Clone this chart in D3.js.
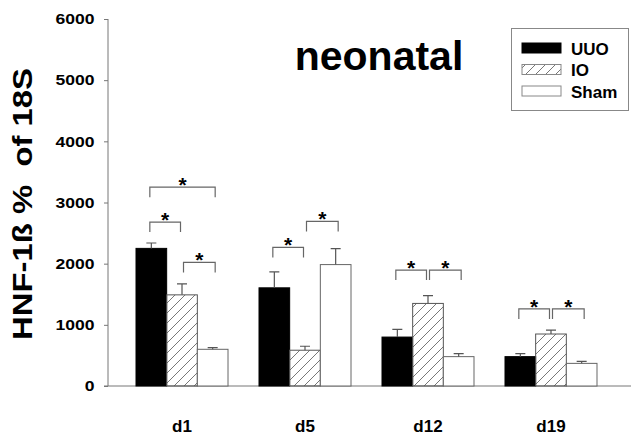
<!DOCTYPE html>
<html>
<head>
<meta charset="utf-8">
<script src="https://cdn.jsdelivr.net/npm/d3@7"></script>
<style>
  html, body { margin: 0; padding: 0; background: #fff; }
  svg { display: block; font-family: Arial, "Liberation Sans", sans-serif; }
</style>
</head>
<body>
<svg id="chart" width="631" height="438"></svg>
<script>
// values
const days = ['d1', 'd5', 'd12', 'd19'];
const groups = ['UUO', 'IO', 'Sham'];
const uuo = [2250, 1605, 800, 480];
const uuoErr = [88, 262, 125, 50];
const io = [1490, 585, 1350, 850];
const ioErr = [178, 65, 127, 62];
const sham = [600, 1985, 480, 370];
const shamErr = [27, 260, 50, 33];
const yTicks = [0, 1000, 2000, 3000, 4000, 5000, 6000];

// significance brackets: day, left group, right group, height
const sigDay = ['d1', 'd1', 'd1', 'd5', 'd5', 'd12', 'd12', 'd19', 'd19'];
const sigFrom = ['UUO', 'UUO', 'IO', 'UUO', 'IO', 'UUO', 'IO', 'UUO', 'IO'];
const sigTo = ['Sham', 'IO', 'Sham', 'IO', 'Sham', 'IO', 'Sham', 'IO', 'Sham'];
const sigLevel = [3250, 2680, 2020, 2265, 2690, 1895, 1895, 1260, 1260];

const seriesVals = { UUO: uuo, IO: io, Sham: sham };
const seriesErr = { UUO: uuoErr, IO: ioErr, Sham: shamErr };

const svg = d3.select('#chart');

// hatch pattern for IO
const defs = svg.append('defs');
defs.append('pattern')
  .attr('id', 'hatch')
  .attr('patternUnits', 'userSpaceOnUse')
  .attr('width', 10)
  .attr('height', 10)
  .append('path')
  .attr('d', 'M-1,1 L1,-1 M0,10 L10,0 M9,11 L11,9')
  .attr('stroke', '#555')
  .attr('stroke-width', 0.8);

const fills = { UUO: '#000', IO: 'url(#hatch)', Sham: '#fff' };
const strokes = { UUO: '#000', IO: '#555', Sham: '#666' };

const axisX = 108;
const yScale = d3.scaleLinear().domain([0, 6000]).range([386, 19]);

const xScale = d3.scaleBand()
  .domain(days)
  .range([105.5, 627.5])
  .paddingInner(0.252)
  .paddingOuter(0.248);

const xInner = d3.scaleBand()
  .domain(groups)
  .range([0, xScale.bandwidth()]);

const xc = (day, grp) => xScale(day) + xInner(grp) + xInner.bandwidth() / 2;

// y axis
const yAxis = d3.axisLeft(yScale)
  .tickValues(yTicks)
  .tickFormat(d3.format('d'))
  .tickSize(4)
  .tickPadding(7.5);

const gy = svg.append('g')
  .attr('transform', `translate(${axisX},0)`)
  .call(yAxis);
gy.select('.domain').attr('stroke', '#777').attr('d', `M0,${yScale(6000)}V${yScale(0)}`);
gy.selectAll('.tick line').attr('stroke', '#777');
gy.selectAll('.tick text')
  .attr('font-size', 15)
  .attr('font-weight', 'bold')
  .attr('fill', '#000')
  .attr('transform', 'scale(1.17,1)');

// x axis line and day labels
svg.append('line')
  .attr('x1', axisX - 4)
  .attr('x2', 631)
  .attr('y1', yScale(0))
  .attr('y2', yScale(0))
  .attr('stroke', '#777');

const xAxis = d3.axisBottom(xScale).tickSize(0).tickPadding(34);
const gx = svg.append('g')
  .attr('transform', `translate(0,${yScale(0)})`)
  .call(xAxis);
gx.select('.domain').remove();
gx.selectAll('.tick text')
  .attr('font-size', 17)
  .attr('font-weight', 'bold')
  .attr('fill', '#000');

// bars
const barData = [];
groups.forEach(g => {
  days.forEach((d, i) => {
    barData.push({ day: d, grp: g, v: seriesVals[g][i], e: seriesErr[g][i] });
  });
});

const bars = svg.append('g');
bars.selectAll('rect')
  .data(barData)
  .enter()
  .append('rect')
  .attr('x', d => xScale(d.day) + xInner(d.grp))
  .attr('y', d => yScale(d.v))
  .attr('width', xInner.bandwidth())
  .attr('height', d => yScale(0) - yScale(d.v))
  .attr('fill', d => fills[d.grp])
  .attr('stroke', d => strokes[d.grp])
  .attr('stroke-width', 1);

// error bars (upper only)
const errG = svg.append('g').attr('stroke', '#555').attr('stroke-width', 1.2);
errG.selectAll('path')
  .data(barData)
  .enter()
  .append('path')
  .attr('fill', 'none')
  .attr('d', d => {
    const cx = xc(d.day, d.grp);
    const top = yScale(d.v + d.e);
    return `M${cx},${yScale(d.v)}V${top}M${cx - 5},${top}H${cx + 5}`;
  });

// significance brackets
const sigData = sigDay.map((d, i) => ({ day: d, a: sigFrom[i], b: sigTo[i], h: sigLevel[i] }));
const endX = (day, grp, side) => {
  const c = xc(day, grp);
  if (grp === 'IO') return c + (side === 'left' ? 1.5 : -1.5);
  return c + (side === 'left' ? -1.5 : 2.5);
};
const sigG = svg.append('g');
sigG.selectAll('path')
  .data(sigData)
  .enter()
  .append('path')
  .attr('fill', 'none')
  .attr('stroke', '#666')
  .attr('stroke-width', 1.2)
  .attr('d', d => {
    const x1 = endX(d.day, d.a, 'left');
    const x2 = endX(d.day, d.b, 'right');
    const y = yScale(d.h);
    return `M${x1},${y + 10}V${y}H${x2}V${y + 10}`;
  });

sigG.selectAll('text')
  .data(sigData)
  .enter()
  .append('text')
  .attr('x', d => (endX(d.day, d.a, 'left') + endX(d.day, d.b, 'right')) / 2)
  .attr('y', d => yScale(d.h) + 5)
  .attr('text-anchor', 'middle')
  .attr('font-size', 21)
  .attr('font-weight', 'bold')
  .text('*');

// title
svg.append('text')
  .attr('x', 379)
  .attr('y', 70)
  .attr('text-anchor', 'middle')
  .attr('font-size', 41)
  .attr('font-weight', 'bold')
  .text('neonatal');

// y label
svg.append('text')
  .attr('transform', 'translate(32,204) rotate(-90)')
  .attr('text-anchor', 'middle')
  .attr('font-size', 28)
  .attr('font-weight', 'bold')
  .attr('textLength', 272)
  .attr('lengthAdjust', 'spacingAndGlyphs')
  .text('HNF-1ß %  of 18S')
  .style('white-space', 'pre');

// legend
const lg = svg.append('g');
lg.append('rect')
  .attr('x', 511.5)
  .attr('y', 28.5)
  .attr('width', 117)
  .attr('height', 82)
  .attr('fill', '#fff')
  .attr('stroke', '#888');

groups.forEach((g, i) => {
  const y = 43 + i * 21.5;
  lg.append('rect')
    .attr('x', 522)
    .attr('y', y)
    .attr('width', 39)
    .attr('height', 10)
    .attr('fill', fills[g])
    .attr('stroke', g === 'UUO' ? '#000' : '#888');
  lg.append('text')
    .attr('x', 571)
    .attr('y', y + 11.5)
    .attr('font-size', 17)
    .attr('font-weight', 'bold')
    .text(g);
});
</script>
</body>
</html>
